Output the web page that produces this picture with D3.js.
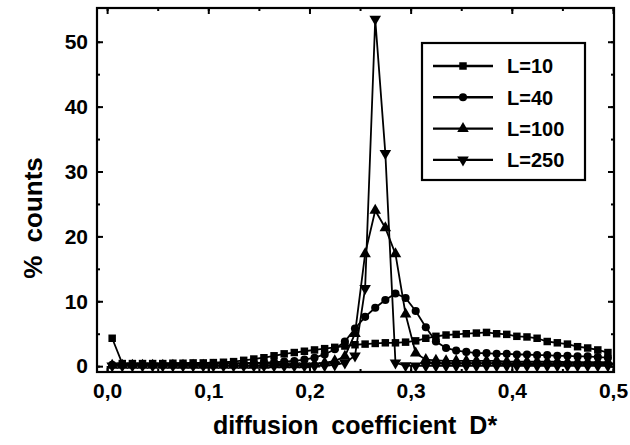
<!DOCTYPE html>
<html>
<head>
<meta charset="utf-8">
<script src="https://cdn.jsdelivr.net/npm/d3@7"></script>
<style>
    body { margin: 0; background: #fff; }
    text { font-family: "Liberation Sans", Arial, sans-serif; font-weight: bold; fill: #000; }
</style>
</head>
<body>
<div id="chart"></div>
<script>
// bin centres of the histogram (diffusion coefficient D*)
const binCenters = [
    0.005, 0.015, 0.025, 0.035, 0.045, 0.055, 0.065, 0.075, 0.085, 0.095,
    0.105, 0.115, 0.125, 0.135, 0.145, 0.155, 0.165, 0.175, 0.185, 0.195,
    0.205, 0.215, 0.225, 0.235, 0.245, 0.255, 0.265, 0.275, 0.285, 0.295,
    0.305, 0.315, 0.325, 0.335, 0.345, 0.355, 0.365, 0.375, 0.385, 0.395,
    0.405, 0.415, 0.425, 0.435, 0.445, 0.455, 0.465, 0.475, 0.485, 0.495,
];

const countsL10 = [
    4.3, 0.4, 0.4, 0.4, 0.4, 0.4, 0.45, 0.45, 0.5, 0.5,
    0.55, 0.6, 0.7, 0.9, 1.1, 1.3, 1.6, 1.9, 2.1, 2.3,
    2.5, 2.7, 2.9, 3.1, 3.3, 3.4, 3.5, 3.6, 3.6, 3.7,
    3.9, 4.3, 4.6, 4.8, 4.9, 5.0, 5.1, 5.2, 5.0, 4.9,
    4.6, 4.5, 4.3, 3.8, 3.6, 3.4, 3.0, 2.8, 2.5, 2.1,
];

const countsL40 = [
    0.2, 0.3, 0.3, 0.3, 0.3, 0.3, 0.3, 0.3, 0.3, 0.3,
    0.35, 0.4, 0.4, 0.45, 0.5, 0.55, 0.6, 0.7, 0.8, 1.0,
    1.3, 1.8, 2.6, 3.8, 5.8, 7.6, 9.0, 10.2, 11.2, 10.5,
    8.5, 6.0, 3.8, 2.8, 2.4, 2.2, 2.0, 2.0, 1.9, 1.9,
    1.8, 1.8, 1.7, 1.7, 1.6, 1.6, 1.5, 1.5, 1.4, 1.3,
];

const countsL100 = [
    0.1, 0.1, 0.1, 0.1, 0.1, 0.1, 0.1, 0.1, 0.1, 0.1,
    0.1, 0.1, 0.1, 0.1, 0.1, 0.1, 0.2, 0.2, 0.2, 0.2,
    0.3, 0.5, 0.8, 1.5, 5.0, 17.3, 24.0, 21.3, 17.3, 8.0,
    2.0, 1.0, 0.9, 0.8, 0.8, 0.8, 0.8, 0.8, 0.8, 0.7,
    0.7, 0.7, 0.7, 0.7, 0.7, 0.6, 0.6, 0.6, 0.6, 0.6,
];

const countsL250 = [
    0.05, 0.05, 0.05, 0.05, 0.05, 0.05, 0.05, 0.05, 0.05, 0.05,
    0.05, 0.05, 0.05, 0.05, 0.05, 0.05, 0.05, 0.05, 0.05, 0.05,
    0.05, 0.1, 0.2, 0.5, 1.6, 12.0, 53.5, 32.8, 0.5, 0.1,
    0.05, 0.05, 0.05, 0.05, 0.05, 0.05, 0.05, 0.05, 0.05, 0.05,
    0.05, 0.05, 0.05, 0.05, 0.05, 0.05, 0.05, 0.05, 0.05, 0.05,
];

const seriesNames = ["L=10", "L=40", "L=100", "L=250"];
const xTicks = [0, 0.1, 0.2, 0.3, 0.4, 0.5];
const yTicks = [0, 10, 20, 30, 40, 50];

const series = [
    { name: seriesNames[0], values: countsL10, symbol: d3.symbolSquare, size: 56, rotate: 0 },
    { name: seriesNames[1], values: countsL40, symbol: d3.symbolCircle, size: 52, rotate: 0 },
    { name: seriesNames[2], values: countsL100, symbol: d3.symbolTriangle, size: 58, rotate: 0 },
    { name: seriesNames[3], values: countsL250, symbol: d3.symbolTriangle, size: 58, rotate: 180 },
];

const width = 630;
const height = 445;
const plot = { left: 97, right: 614, top: 8, bottom: 372 };

const svg = d3
    .select("#chart")
    .append("svg")
    .attr("width", width)
    .attr("height", height);

const xScale = d3
    .scaleLinear()
    .domain([-0.01, 0.501])
    .range([plot.left, plot.right]);

const yScale = d3
    .scaleLinear()
    .domain([-0.9, 55.2])
    .range([plot.bottom, plot.top]);

// minor ticks (inward, all four sides)
const minorX = d3.range(0, 0.501, 0.05);
const minorY = d3.range(0, 55, 5);

svg.append("g")
    .attr("transform", `translate(0, ${plot.bottom})`)
    .call(d3.axisBottom(xScale).tickValues(minorX).tickFormat("").tickSize(-3).tickSizeOuter(0));
svg.append("g")
    .attr("transform", `translate(0, ${plot.top})`)
    .call(d3.axisTop(xScale).tickValues(minorX).tickFormat("").tickSize(-3).tickSizeOuter(0));
svg.append("g")
    .attr("transform", `translate(${plot.left}, 0)`)
    .call(d3.axisLeft(yScale).tickValues(minorY).tickFormat("").tickSize(-3).tickSizeOuter(0));
svg.append("g")
    .attr("transform", `translate(${plot.right}, 0)`)
    .call(d3.axisRight(yScale).tickValues(minorY).tickFormat("").tickSize(-3).tickSizeOuter(0));

// major ticks with labels
const xAxis = svg.append("g")
    .attr("transform", `translate(0, ${plot.bottom})`)
    .call(d3.axisBottom(xScale)
        .tickValues(xTicks)
        .tickFormat((d) => d3.format(".1f")(d).replace(".", ","))
        .tickSize(-6)
        .tickSizeOuter(0)
        .tickPadding(11));

svg.append("g")
    .attr("transform", `translate(0, ${plot.top})`)
    .call(d3.axisTop(xScale).tickValues(xTicks).tickFormat("").tickSize(-6).tickSizeOuter(0));

const yAxis = svg.append("g")
    .attr("transform", `translate(${plot.left}, 0)`)
    .call(d3.axisLeft(yScale)
        .tickValues(yTicks)
        .tickSize(-6)
        .tickSizeOuter(0)
        .tickPadding(9));

svg.append("g")
    .attr("transform", `translate(${plot.right}, 0)`)
    .call(d3.axisRight(yScale).tickValues(yTicks).tickFormat("").tickSize(-6).tickSizeOuter(0));

svg.selectAll(".domain").remove();
svg.selectAll(".tick line").attr("stroke", "#000").attr("stroke-width", 2);
xAxis.selectAll("text").style("font-size", "21px").attr("font-family", null);
yAxis.selectAll("text").style("font-size", "21px").attr("font-family", null);

// data lines and markers
const line = d3
    .line()
    .x((d, i) => xScale(binCenters[i]))
    .y((d) => yScale(d));

const marks = svg.append("g").attr("class", "series");

series.forEach((s) => {
    marks.append("path")
        .datum(s.values)
        .attr("fill", "none")
        .attr("stroke", "#000")
        .attr("stroke-width", 1.8)
        .attr("d", line);

    marks.append("g")
        .selectAll("path")
        .data(s.values)
        .join("path")
        .attr("d", d3.symbol().type(s.symbol).size(s.size))
        .attr("transform", (d, i) =>
            `translate(${xScale(binCenters[i])}, ${yScale(d)}) rotate(${s.rotate})`)
        .attr("fill", "#000");
});

// frame
svg.append("rect")
    .attr("x", plot.left)
    .attr("y", plot.top)
    .attr("width", plot.right - plot.left)
    .attr("height", plot.bottom - plot.top)
    .attr("fill", "none")
    .attr("stroke", "#000")
    .attr("stroke-width", 2.2);

// legend
const legend = svg.append("g").attr("transform", "translate(422, 43)");

legend.append("rect")
    .attr("width", 163)
    .attr("height", 137)
    .attr("fill", "#fff")
    .attr("stroke", "#000")
    .attr("stroke-width", 2.2);

const rows = legend.selectAll(".row")
    .data(series)
    .join("g")
    .attr("class", "row")
    .attr("transform", (d, i) => `translate(0, ${23 + i * 31.3})`);

rows.append("line")
    .attr("x1", 11)
    .attr("x2", 71)
    .attr("stroke", "#000")
    .attr("stroke-width", 2.4);

rows.append("path")
    .attr("d", (d) => d3.symbol().type(d.symbol).size(d.size)())
    .attr("transform", (d) => `translate(41, 0) rotate(${d.rotate})`)
    .attr("fill", "#000");

rows.append("text")
    .attr("x", 85)
    .attr("dy", "0.36em")
    .style("font-size", "20px")
    .text((d) => d.name);

// axis titles
svg.append("text")
    .attr("x", 355)
    .attr("y", 434)
    .attr("text-anchor", "middle")
    .style("font-size", "25px")
    .style("word-spacing", "6px")
    .text("diffusion coefficient D*");

svg.append("text")
    .attr("transform", "translate(42, 218) rotate(-90)")
    .attr("text-anchor", "middle")
    .style("font-size", "26px")
    .style("word-spacing", "6px")
    .text("% counts");
</script>
</body>
</html>
